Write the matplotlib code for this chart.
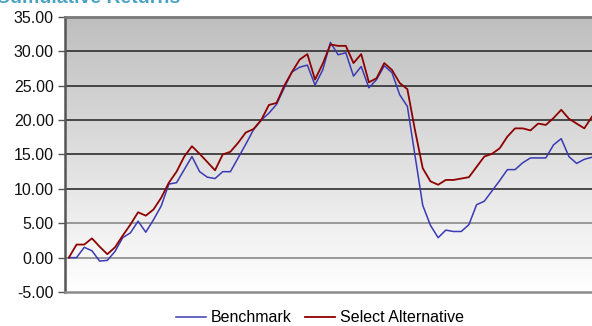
import matplotlib
matplotlib.use("Agg")
import matplotlib.pyplot as plt
import numpy as np
from matplotlib.colors import LinearSegmentedColormap

plt.rcParams['font.family'] = ['Liberation Sans', 'DejaVu Sans']

# cumulative returns
benchmark = [0.0, 0.0, 1.5, 1.0, -0.5, -0.4, 0.9, 2.9, 3.6, 5.3,
             3.7, 5.5, 7.5, 10.7, 10.9, 12.8, 14.7, 12.5, 11.7, 11.5,
             12.5, 12.5, 14.5, 16.5, 18.6, 20.0, 21.0, 22.3, 24.7, 27.0,
             27.7, 28.0, 25.1, 27.3, 31.3, 29.5, 29.8, 26.4, 27.8, 24.7,
             25.9, 27.9, 26.9, 23.7, 22.0, 14.8, 7.6, 4.7, 2.9, 4.0,
             3.8, 3.8, 4.8, 7.7, 8.2, 9.7, 11.2, 12.8, 12.8, 13.8,
             14.5, 14.5, 14.5, 16.4, 17.3, 14.7, 13.7, 14.3, 14.6]
select_alt = [0.0, 1.9, 1.9, 2.8, 1.6, 0.5, 1.5, 3.2, 4.8, 6.6,
              6.1, 7.0, 8.7, 10.9, 12.5, 14.7, 16.2, 15.1, 13.9, 12.7,
              15.0, 15.4, 16.7, 18.2, 18.7, 20.0, 22.2, 22.5, 25.0, 27.0,
              28.8, 29.6, 25.9, 28.2, 31.0, 30.8, 30.8, 28.3, 29.6, 25.5,
              26.1, 28.3, 27.3, 25.4, 24.5, 18.5, 13.0, 11.1, 10.6, 11.3,
              11.3, 11.5, 11.7, 13.2, 14.7, 15.1, 15.9, 17.6, 18.8, 18.8,
              18.5, 19.5, 19.3, 20.3, 21.5, 20.2, 19.5, 18.8, 20.5]
yticks = [-5, 0, 5, 10, 15, 20, 25, 30, 35]

x = np.arange(len(benchmark))

fig = plt.figure(figsize=(5.92, 3.26), dpi=100)
ax = fig.add_axes([0.1098, 0.1043, 0.8902, 0.8436])

# gray to white background gradient
cmap = LinearSegmentedColormap.from_list("bg", ["#ffffff", "#bebebe"])
grad = np.linspace(0, 1, 256).reshape(-1, 1)
ax.imshow(grad, extent=[0, 1, 0, 1], transform=ax.transAxes, origin="lower",
          cmap=cmap, aspect="auto", zorder=0)

# gridlines, darker toward the top
for v in yticks[1:-1]:
    c = "#2e2e2e" if v >= 10 else "#8a8a8a"
    ax.axhline(v, color=c, lw=1.2, zorder=1)

ax.plot(x, benchmark, color="#3a3ab4", lw=1.1, label="Benchmark", zorder=3)
ax.plot(x, select_alt, color="#8e0000", lw=1.3, label="Select Alternative", zorder=4)

ax.set_xlim(-0.5, 68)
ax.set_ylim(-5, 35)
ax.set_yticks(yticks)
ax.set_yticklabels(["%.2f" % v for v in yticks], fontsize=11.5, color="#111111")
ax.set_xticks([])

ax.spines["right"].set_visible(False)
ax.spines["left"].set_color("#555555")
ax.spines["left"].set_linewidth(1.8)
ax.spines["top"].set_color("#7a7a7a")
ax.spines["top"].set_linewidth(2)
ax.spines["bottom"].set_color("#8a8a8a")
ax.spines["bottom"].set_linewidth(1.8)
ax.tick_params(axis="y", direction="out", length=5, width=1, color="#555555", pad=3)

fig.legend(loc="center", bbox_to_anchor=(0.54, 0.025), ncol=2, frameon=False,
           fontsize=11.5, handlelength=1.9, handletextpad=0.3, columnspacing=0.8)

# title clipped at the top of the image, as in the source
fig.text(180 / 592, 1 - 3 / 326, "Cumulative Returns", ha="right", va="baseline",
         fontsize=14, fontweight="bold", color="#4ba3c4")

fig.savefig("out.png", dpi=100)
